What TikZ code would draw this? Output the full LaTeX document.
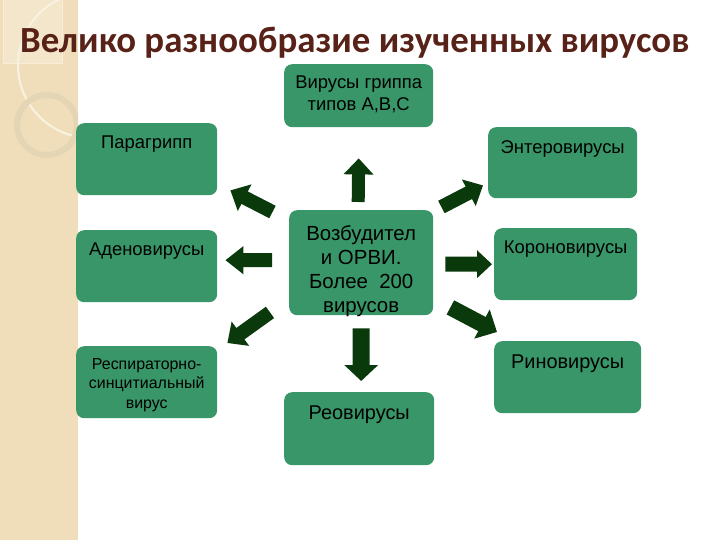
\documentclass[tikz,border=0pt]{standalone}
\usepackage{fontspec}
\setmainfont{Liberation Sans}
\newfontfamily\titlefont{Carlito}
\usetikzlibrary{arrows.meta, positioning, calc}

\definecolor{boxgreen}{RGB}{56,150,104}
\definecolor{arrowgreen}{RGB}{10,58,12}
\definecolor{titlebrown}{RGB}{88,34,24}
\definecolor{stripbeige}{RGB}{240,222,186}
\definecolor{ringbeige}{RGB}{228,213,180}

\begin{document}
\begin{tikzpicture}[x=1bp, y=-1bp,
    box/.style={fill=boxgreen, rounded corners=8bp, inner sep=0, anchor=north west},
    lbl/.style={inner sep=0, align=center, text=black, font=\fontsize{18.5}{21.6}\selectfont},
    blockarrow/.style={draw=arrowgreen, line width=14bp, -{Triangle[length=16bp, width=29bp]}}]
    \useasboundingbox (0,0) rectangle (720,540);
    % left strip
    \fill[stripbeige] (0,0) rectangle (78,540);
    \begin{scope}
        \clip (0,0) rectangle (78,540);
        \fill[white!25!stripbeige] (3,0) rectangle (62,63);
        \draw[white!45!stripbeige, line width=0.8bp] (3,0) -- (3,63) -- (62,63) -- (62,0);
        \draw[white!60!stripbeige, line width=2bp] (91,65) circle (73);
        \draw[ringbeige, line width=6bp] (47,125) circle (30);
    \end{scope}
    % title
    \node[anchor=base west, inner sep=0, text=titlebrown,
          font=\titlefont\bfseries\fontsize{37}{44}\selectfont] (title) at (20,53)
          {Велико разнообразие изученных вирусов};
    % boxes
    \node[box, minimum width=149bp, minimum height=63bp] (flu) at (284,64) {};
    \node[box, minimum width=141bp, minimum height=72bp] (para) at (76,123) {};
    \node[box, minimum width=141bp, minimum height=72bp] (adeno) at (76,230) {};
    \node[box, minimum width=141bp, minimum height=72bp] (rsv) at (76,346) {};
    \node[box, minimum width=149bp, minimum height=71bp] (entero) at (488,127) {};
    \node[box, minimum width=144bp, minimum height=105bp] (orvi) at (289,210) {};
    \node[box, minimum width=143bp, minimum height=72bp] (corona) at (494,228) {};
    \node[box, minimum width=147bp, minimum height=72bp] (rhino) at (494,341) {};
    \node[box, minimum width=150bp, minimum height=73bp] (reo) at (284,392) {};
    % texts
    \node[lbl, below=12bp of flu.north] (fluT) {Вирусы гриппа\\типов А,В,С};
    \node[lbl, below=13bp of para.north] (paraT) {Парагрипп};
    \node[lbl, below=13bp of adeno.north] (adenoT) {Аденовирусы};
    \node[lbl, below=12bp of rsv.north, font=\fontsize{16}{19.5}\selectfont] (rsvT)
        {Респираторно-\\синцитиальный\\вирус};
    \node[lbl, below=13bp of entero.north] (enteroT) {Энтеровирусы};
    \node[lbl, below=15.5bp of orvi.north, font=\fontsize{20.5}{24}\selectfont] (orviT)
        {Возбудител\\и ОРВИ.\\Более~~200\\вирусов};
    \node[lbl, below=13bp of corona.north] (coronaT) {Короновирусы};
    \node[lbl, below=14bp of rhino.north, font=\fontsize{20}{24}\selectfont] (rhinoT) {Риновирусы};
    \node[lbl, below=14bp of reo.north, font=\fontsize{20}{24}\selectfont] (reoT) {Реовирусы};
    % arrows
    \draw[blockarrow, line width=13bp] ($(orvi.north)+(-3,-8)$) -- ($(flu.south)+(0,31)$);
    \draw[blockarrow, line width=17bp, -{Triangle[length=16bp, width=33bp]}]
        ($(orvi.south)+(0,13)$) -- ($(reo.north)+(2,-11)$);
    \draw[blockarrow, line width=15bp, -{Triangle[length=15bp, width=27bp]}]
        ($(orvi.east)+(12,1.5)$) -- ($(corona.west)+(-2,0)$);
    \draw[blockarrow, line width=14bp] ($(orvi.north east)+(8,-3)$) -- ($(entero.south west)+(-5,-13)$);
    \draw[blockarrow, line width=16bp, -{Triangle[length=17bp, width=32bp]}]
        ($(orvi.south east)+(17,-8)$) -- ($(rhino.north west)+(3,-9)$);
    \draw[blockarrow, -{Triangle[length=18bp, width=27bp]}]
        ($(orvi.west)+(-17,-2.5)$) -- ($(adeno.east)+(8,-6)$);
    \draw[blockarrow] ($(orvi.north west)+(-16.5,2)$) -- ($(para.south east)+(13,-5)$);
    \draw[blockarrow] ($(orvi.south west)+(-19,-3)$) -- ($(rsv.north east)+(10,-3)$);
\end{tikzpicture}
\end{document}
